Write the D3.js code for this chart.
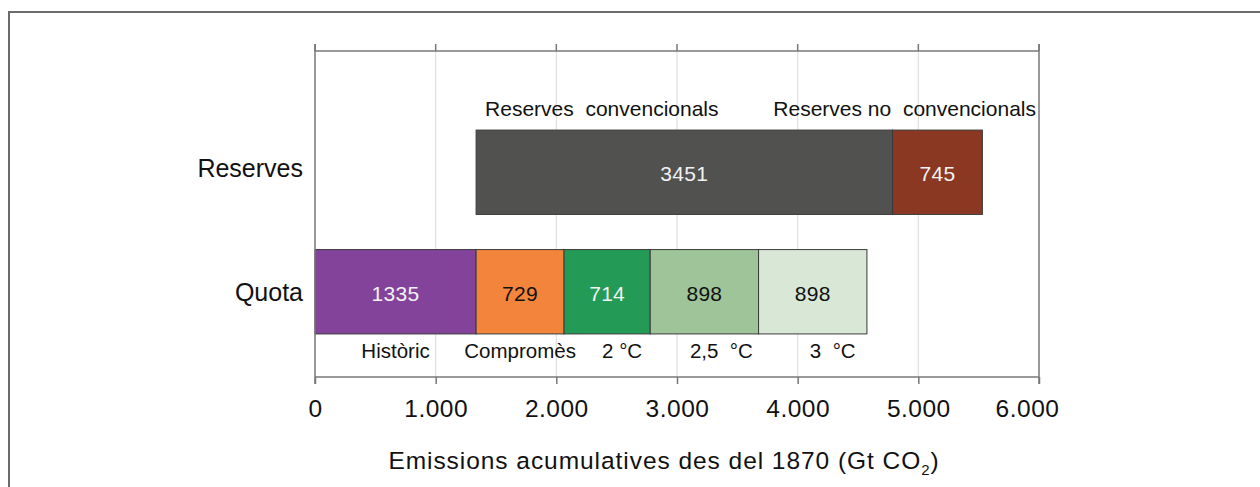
<!DOCTYPE html>
<html><head><meta charset="utf-8">
<script src="https://cdn.jsdelivr.net/npm/d3@7"></script>
<style>body{margin:0;background:#fff}svg{display:block;font-family:"Liberation Sans",Arial,sans-serif}</style>
</head><body>
<script>
const categories = ["Reserves", "Quota"];
const quotaLabels = ["Històric", "Compromès", "2 °C", "2,5  °C", "3  °C"];
const quotaValues = [1335, 729, 714, 898, 898];
const reserveLabels = ["Reserves  convencionals", "Reserves no  convencionals"];
const reserveValues = [3451, 745];
const tickValues = [0, 1000, 2000, 3000, 4000, 5000, 6000];
const axisTitle = "Emissions acumulatives des del 1870 (Gt CO";

// styling (not data)
const quotaColors = ["#84439a", "#f3843b", "#239a55", "#9fc49a", "#d9e8d6"];
const quotaText = ["#f2f2f2", "#111", "#f2f2f2", "#111", "#111"];
const reserveColors = ["#515150", "#8b3822"];
const quotaLabelShift = [0, 0, 15, 17, 20];

const W = 1260, H = 487;
const svg = d3.select("body").append("svg").attr("width", W).attr("height", H);

// frame
svg.append("path").attr("d", `M9,${H} L9,12 L${W},12`).attr("fill", "none")
  .attr("stroke", "#6b6b6b").attr("stroke-width", 2);

const x = d3.scaleLinear().domain([0, 6000]).range([315, 1039]);
const y = d3.scaleBand().domain(categories).range([112.5, 351.5]).paddingInner(0.2941).paddingOuter(0.147);
const plotTop = 51, plotBottom = 377;

const loc = d3.formatLocale({decimal: ",", thousands: ".", grouping: [3], currency: ["", "€"]});
const fmt = loc.format(",");

// gridlines
svg.append("g").selectAll("line").data(tickValues.slice(1, -1)).join("line")
  .attr("x1", d => x(d)).attr("x2", d => x(d)).attr("y1", plotTop).attr("y2", plotBottom)
  .attr("stroke", "#e0e0e0").attr("stroke-width", 1.2);

// stacks
let acc = 0;
const quotaSegs = quotaValues.map((v, i) => { const s = {i, v, x0: acc, x1: acc + v}; acc += v; return s; });
acc = quotaValues[0];
const reserveSegs = reserveValues.map((v, i) => { const s = {i, v, x0: acc, x1: acc + v}; acc += v; return s; });

const bw = y.bandwidth();
function drawStack(segs, cat, colors, textColors) {
  const g = svg.append("g");
  g.selectAll("rect").data(segs).join("rect")
    .attr("x", d => x(d.x0)).attr("width", d => x(d.x1) - x(d.x0))
    .attr("y", y(cat)).attr("height", bw)
    .attr("fill", d => colors[d.i]).attr("stroke", "#3a3a3a").attr("stroke-width", 1);
  g.selectAll("text").data(segs).join("text")
    .attr("x", d => (x(d.x0) + x(d.x1)) / 2).attr("y", y(cat) + bw / 2 + 9)
    .attr("text-anchor", "middle").attr("font-size", 21).attr("letter-spacing", 0.3)
    .attr("fill", d => textColors[d.i]).text(d => d.v);
}
drawStack(reserveSegs, "Reserves", reserveColors, ["#f2f2f2", "#f2f2f2"]);
drawStack(quotaSegs, "Quota", quotaColors, quotaText);

// reserve labels above
svg.append("text").attr("x", x(reserveSegs[0].x0) + 9).attr("y", y("Reserves") - 14.5)
  .attr("font-size", 21).attr("fill", "#111").style("white-space", "pre").text(reserveLabels[0]);
svg.append("text").attr("x", x(6000) - 3).attr("y", y("Reserves") - 14.5)
  .attr("text-anchor", "end").attr("font-size", 21).attr("fill", "#111").style("white-space", "pre").text(reserveLabels[1]);

// quota labels below
svg.append("g").selectAll("text").data(quotaSegs).join("text")
  .attr("x", d => (x(d.x0) + x(d.x1)) / 2 + quotaLabelShift[d.i])
  .attr("y", y("Quota") + bw + 24)
  .attr("text-anchor", "middle").attr("font-size", 20.5).attr("fill", "#111")
  .style("white-space", "pre")
  .text(d => quotaLabels[d.i]);

// axes frame lines
const ax = "#777";
svg.append("line").attr("x1", x(0)).attr("x2", x(6000)).attr("y1", plotTop).attr("y2", plotTop).attr("stroke", ax).attr("stroke-width", 1.5);
svg.append("line").attr("x1", x(0)).attr("x2", x(6000)).attr("y1", plotBottom).attr("y2", plotBottom).attr("stroke", ax).attr("stroke-width", 1.5);
svg.append("line").attr("x1", x(0)).attr("x2", x(0)).attr("y1", plotTop - 7).attr("y2", plotBottom + 7).attr("stroke", ax).attr("stroke-width", 1.5);
svg.append("line").attr("x1", x(6000)).attr("x2", x(6000)).attr("y1", plotTop - 7).attr("y2", plotBottom + 7).attr("stroke", ax).attr("stroke-width", 1.5);

// top ticks
svg.append("g").selectAll("line").data(tickValues).join("line")
  .attr("x1", d => x(d)).attr("x2", d => x(d)).attr("y1", plotTop - 7).attr("y2", plotTop)
  .attr("stroke", ax).attr("stroke-width", 1.5);

// bottom axis
const xAxis = d3.axisBottom(x).tickValues(tickValues).tickFormat(fmt).tickSize(7).tickSizeOuter(0);
const gx = svg.append("g").attr("transform", `translate(0,${plotBottom})`).call(xAxis);
gx.select(".domain").remove();
gx.selectAll(".tick line").attr("stroke", ax).attr("stroke-width", 1.5);
gx.selectAll(".tick text").attr("font-size", 24.5).attr("letter-spacing", 0.5).attr("fill", "#111").attr("dy", 0).attr("y", 40)
  .attr("font-family", "Liberation Sans, Arial, sans-serif")
  .attr("dx", (d, i, n) => i === n.length - 1 ? -12 : 0);

// category labels
const yAxis = d3.axisLeft(y).tickSize(0).tickPadding(12);
const gy = svg.append("g").attr("transform", `translate(${x(0)},0)`).call(yAxis);
gy.select(".domain").remove();
gy.selectAll(".tick text").attr("font-size", 25).attr("fill", "#111")
  .attr("font-family", "Liberation Sans, Arial, sans-serif")
  .attr("dy", d => d === "Reserves" ? "0.2em" : "0.35em");

// axis title
const t = svg.append("text").attr("x", 664).attr("y", 469).attr("text-anchor", "middle")
  .attr("font-size", 24.5).attr("letter-spacing", 0.95).attr("fill", "#111");
t.append("tspan").text(axisTitle);
t.append("tspan").attr("font-size", 15).attr("dy", 6).text("2");
t.append("tspan").attr("dy", -6).text(")");
</script>
</body></html>
